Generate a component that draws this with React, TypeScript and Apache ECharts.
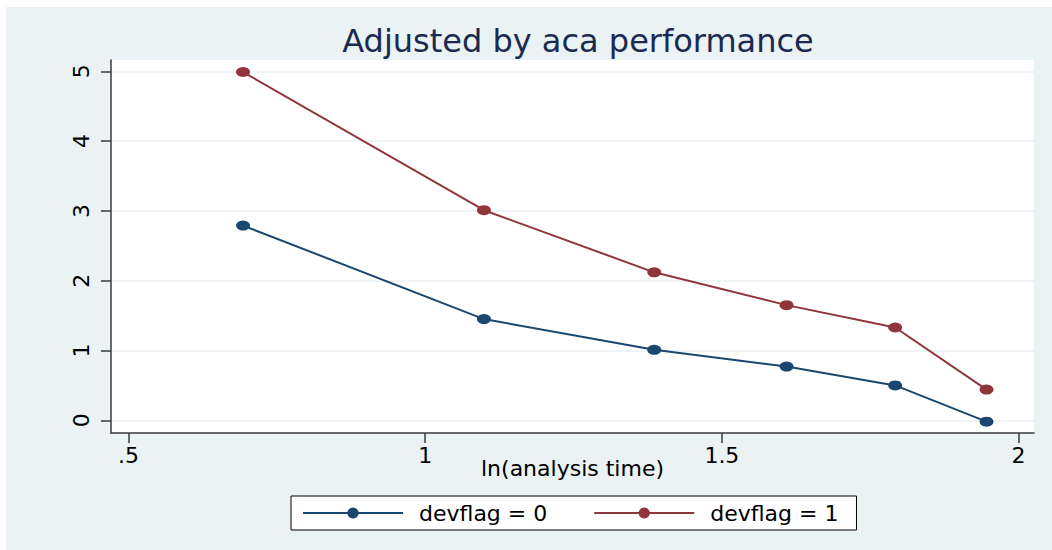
import React, { useEffect, useRef } from 'react';
import * as echarts from 'echarts';

const titleText = 'Adjusted by aca performance';
const xAxisTitle = 'ln(analysis time)';
const seriesNames = ['devflag = 0', 'devflag = 1'];
const xValues = [0.693, 1.099, 1.386, 1.609, 1.792, 1.946];
const devflag0 = [2.79, 1.45, 1.01, 0.77, 0.5, -0.02];
const devflag1 = [4.99, 3.01, 2.12, 1.65, 1.33, 0.44];
const xTickValues = [0.5, 1, 1.5, 2];
const xTickLabels = ['.5', '1', '1.5', '2'];
const yTickValues = [0, 1, 2, 3, 4, 5];
const yTickLabels = ['0', '1', '2', '3', '4', '5'];

const FONT = 'DejaVu Sans';
const BLUE = '#1a476f';
const RED = '#90353b';
const BG = '#eaf2f3';
const AXIS = '#3a3a3a';

export default function App() {
  const ref = useRef<HTMLDivElement>(null);
  useEffect(() => {
    if (!ref.current) return;
    const chart = echarts.init(ref.current, null, { renderer: 'svg' });
    const pts = (ys: number[]) => xValues.map((x, i) => [x, ys[i]]);
    chart.setOption({
      animation: false,
      backgroundColor: BG,
      title: {
        text: titleText,
        left: 567,
        textAlign: 'center',
        top: 13,
        textStyle: { fontFamily: FONT, fontSize: 32, fontWeight: 'normal', color: '#1a2a50' },
      },
      grid: {
        left: 105,
        top: 53,
        right: 18,
        bottom: 117,
        show: true,
        backgroundColor: '#ffffff',
        borderWidth: 0,
      },
      xAxis: {
        type: 'value',
        min: 0.4705,
        max: 2.026,
        name: xAxisTitle,
        nameLocation: 'middle',
        nameGap: 24,
        nameMoveOverlap: false,
        nameTextStyle: { fontFamily: FONT, fontSize: 22, color: '#000' },
        axisLine: { show: true, onZero: false, lineStyle: { color: AXIS, width: 1.5 } },
        axisTick: { show: true, length: 10, customValues: xTickValues, lineStyle: { color: AXIS, width: 1.5 } },
        axisLabel: {
          customValues: xTickValues,
          margin: 11,
          fontFamily: FONT,
          fontSize: 22,
          color: '#000',
          formatter: (v: number) => xTickLabels[xTickValues.indexOf(v)] ?? String(v),
        },
        splitLine: { show: false },
      },
      yAxis: {
        type: 'value',
        min: -0.182,
        max: 5.162,
        axisLine: { show: true, onZero: false, lineStyle: { color: AXIS, width: 1.5 } },
        axisTick: { show: true, length: 10, customValues: yTickValues, lineStyle: { color: AXIS, width: 1.5 } },
        axisLabel: {
          customValues: yTickValues,
          rotate: 90,
          margin: 19,
          fontFamily: FONT,
          fontSize: 22,
          color: '#000',
          formatter: (v: number) => yTickLabels[yTickValues.indexOf(v)] ?? String(v),
        },
        splitLine: { show: true, lineStyle: { color: BG, width: 1.5 } },
      },
      legend: {
        data: seriesNames,
        left: 285,
        top: 489,
        orient: 'horizontal',
        itemWidth: 100,
        itemHeight: 14,
        itemGap: 46,
        padding: [6, 18, 6, 11],
        borderColor: '#000',
        borderWidth: 1,
        backgroundColor: '#fff',
        borderRadius: 0,
        textStyle: { fontFamily: FONT, fontSize: 22, color: '#000', padding: [0, 0, 0, 11] },
      },
      series: [
        {
          name: seriesNames[0],
          type: 'line',
          data: pts(devflag0),
          symbol: 'circle',
          symbolSize: [14, 10],
          lineStyle: { color: BLUE, width: 2 },
          itemStyle: { color: BLUE },
        },
        {
          name: seriesNames[1],
          type: 'line',
          data: pts(devflag1),
          symbol: 'circle',
          symbolSize: [14, 10],
          lineStyle: { color: RED, width: 2 },
          itemStyle: { color: RED },
        },
      ],
    });
    return () => chart.dispose();
  }, []);
  return (
    <div style={{ position: 'fixed', left: 0, top: 0, width: 1052, height: 550, background: '#fff' }}>
      <div ref={ref} style={{ position: 'absolute', left: 6, top: 7, width: 1046, height: 543 }} />
    </div>
  );
}
